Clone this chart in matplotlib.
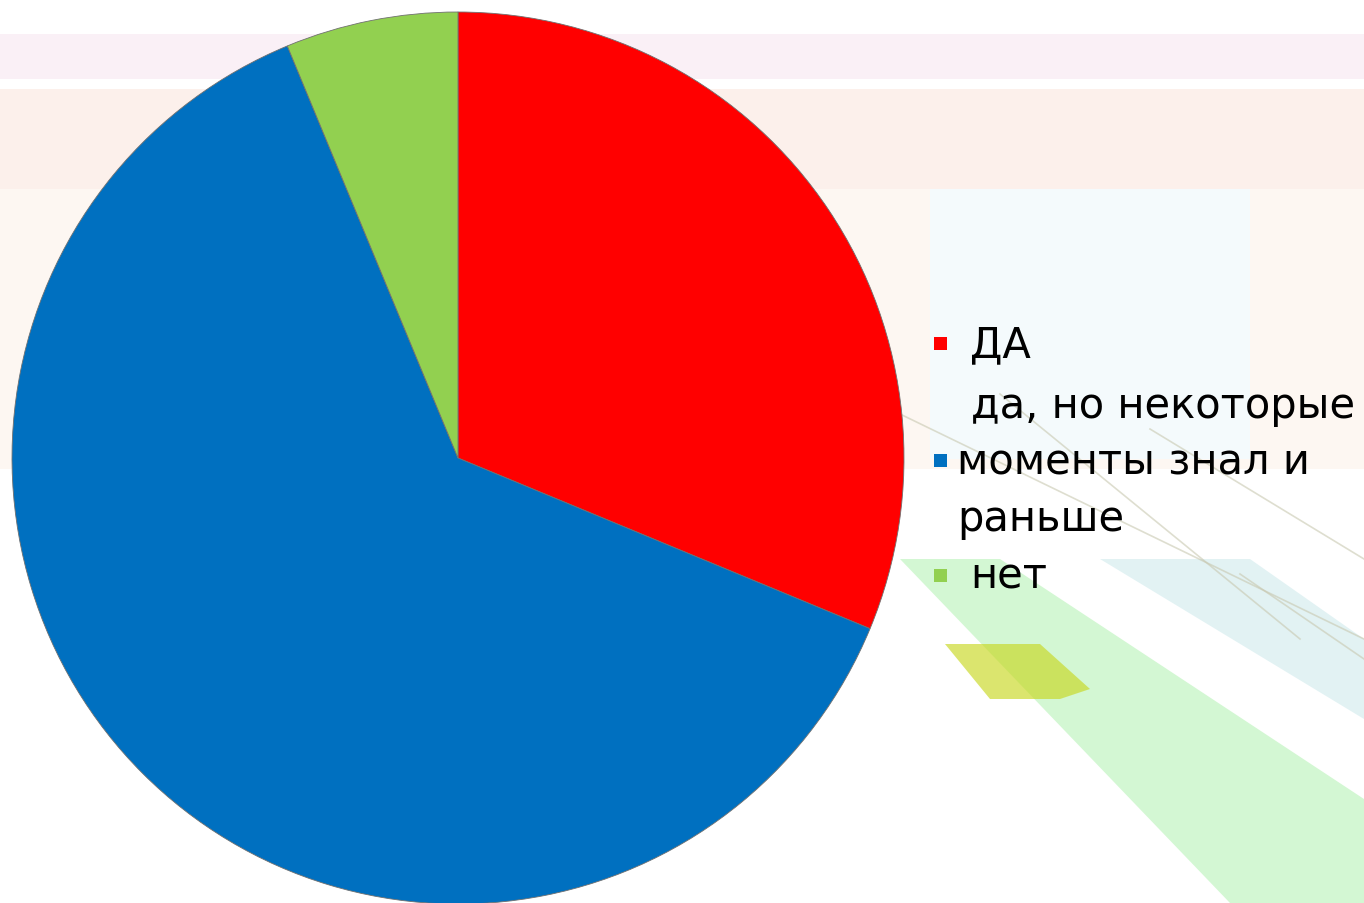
import matplotlib.pyplot as plt
from matplotlib.patches import Polygon, Rectangle

labels = ['ДА', 'да, но некоторые\nмоменты знал и\nраньше', 'нет']
values = [10, 20, 2]
colors = ['#FF0000', '#0070C0', '#92D050']

W, H = 1364, 904
fig = plt.figure(figsize=(W / 100, H / 100), dpi=100)
fig.patch.set_facecolor('white')

# faint decorative background (slide template)
bg = fig.add_axes([0, 0, 1, 1])
bg.set_xlim(0, W)
bg.set_ylim(H, 0)
bg.axis('off')
bg.add_patch(Rectangle((0, 35), W, 45, color='#f3d6e6', alpha=0.35, lw=0))
bg.add_patch(Rectangle((0, 90), W, 100, color='#f6d0c0', alpha=0.3, lw=0))
bg.add_patch(Rectangle((0, 190), W, 280, color='#f8dcc8', alpha=0.22, lw=0))
bg.add_patch(Rectangle((930, 190), 320, 270, color='#f4fafc', alpha=1, lw=0))
bg.add_patch(Polygon([(900, 560), (1000, 560), (1364, 800), (1364, 904), (1230, 904)],
                     color='#a8f0a8', alpha=0.5, lw=0))
bg.add_patch(Polygon([(945, 645), (1040, 645), (1090, 690), (1060, 700), (990, 700)],
                     color='#c8d820', alpha=0.65, lw=0))
bg.add_patch(Polygon([(1100, 560), (1250, 560), (1364, 640), (1364, 720)],
                     color='#bfe3e6', alpha=0.45, lw=0))
for x0, y0, x1, y1 in [(900, 415, 1364, 640), (1000, 395, 1300, 640),
                       (1150, 430, 1364, 560), (1240, 575, 1364, 660)]:
    bg.plot([x0, x1], [y0, y1], color='#c8c8b0', lw=1.2, alpha=0.6)

# pie
cx, cy, r = 458, 459, 446
ax = fig.add_axes([(cx - r) / W, (H - cy - r) / H, 2 * r / W, 2 * r / H])
ax.pie(values, colors=colors, startangle=90, counterclock=False,
       wedgeprops=dict(edgecolor='#707070', linewidth=0.6))
ax.set_xlim(-1, 1)
ax.set_ylim(-1, 1)
ax.set_aspect('equal')
ax.axis('off')

# legend, drawn by hand to mimic the wrapped PowerPoint legend
fs = 30
entries_y = [345, 462, 577]
for lab, col, y in zip(labels, colors, entries_y):
    bg.add_patch(Rectangle((934, y - 7), 13, 13, color=col, lw=0))
    lines = lab.split('\n')
    if len(lines) == 1:
        bg.text(970, y, lab, fontsize=fs, va='center', ha='left', color='black')
    else:
        bg.text(971, y - 56, lines[0], fontsize=fs, va='center', ha='left', color='black')
        for i, ln in enumerate(lines[1:]):
            bg.text(957, y + i * 57, ln, fontsize=fs, va='center', ha='left', color='black')

fig.savefig('out.png', dpi=100)
